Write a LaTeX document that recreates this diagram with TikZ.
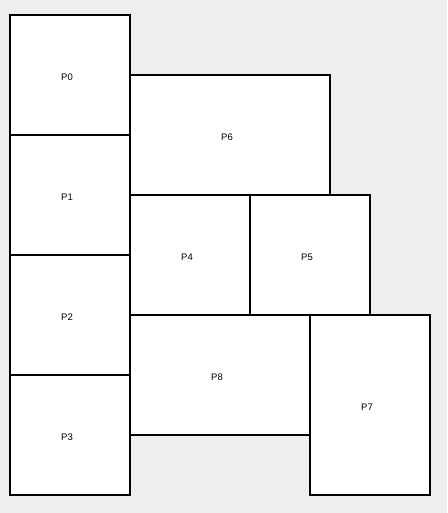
\documentclass[tikz,border=0pt]{standalone}
\usepackage{fontspec}
\setmainfont{Liberation Sans}
\usetikzlibrary{positioning}
\definecolor{pk-bg}{HTML}{EEEEEE}

\tikzset{
    part/.style={draw=black, fill=white, line width=2pt, inner sep=0pt,
        label={[font=\fontsize{9.5}{11}\selectfont, xshift=-3pt, yshift=-2.5pt]center:#1}},
    sq/.style={part=#1, minimum width=120pt, minimum height=120pt}
}

\begin{document}
\begin{tikzpicture}[x=1pt, y=-1pt]
    % Canvas
    \fill[pk-bg] (0,0) rectangle (447,513);
    \useasboundingbox (0,0) rectangle (447,513);
    % Left column
    \node[sq=P0] (p0) at (70,75) {};
    \node[sq=P1] (p1) at (70,195) {};
    \node[sq=P2] (p2) at (70,315) {};
    \node[sq=P3] (p3) at (70,435) {};
    % Upper block
    \node[part=P6, minimum width=200pt, minimum height=120pt] (p6) at (230,135) {};
    \node[sq=P4] (p4) at (190,255) {};
    \node[sq=P5] (p5) at (310,255) {};
    % Lower block
    \node[part=P8, minimum width=180pt, minimum height=120pt] (p8) at (220,375) {};
    \node[part=P7, minimum width=120pt, minimum height=180pt] (p7) at (370,405) {};
\end{tikzpicture}
\end{document}
